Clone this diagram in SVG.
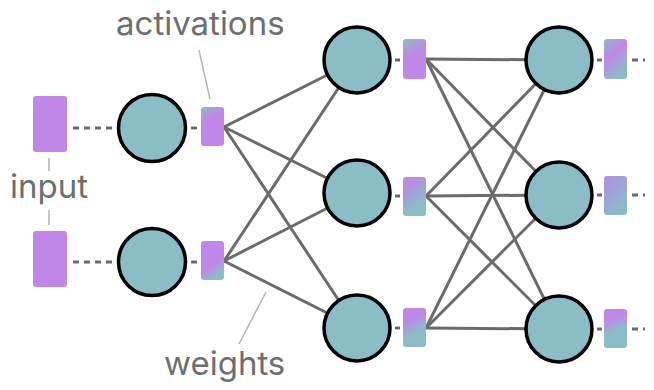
<svg xmlns="http://www.w3.org/2000/svg" width="654" height="390" viewBox="0 0 654 390">
<style>
.neuron{fill:#8bbdc6;stroke:#000;stroke-width:3.5}
.w{stroke:#6b6b6b;stroke-width:3;fill:none}
.d{stroke:#6b6b6b;stroke-width:3;fill:none}
.lead{stroke:#b5b5b5;stroke-width:1.5;fill:none}
.lbl{font-family:Inter,"Liberation Sans",sans-serif;font-size:33px;fill:#6e6e6e}
.inp{fill:#c086e8}
</style>
<defs>
<linearGradient id="gA" x1="0" y1="0" x2="0.35" y2="1"><stop offset="0" stop-color="#8bbdc6"/><stop offset="0.4" stop-color="#c086e8"/><stop offset="1" stop-color="#c086e8"/></linearGradient>
<linearGradient id="gB" x1="0" y1="0" x2="0.4" y2="1"><stop offset="0" stop-color="#c086e8"/><stop offset="0.7" stop-color="#c086e8"/><stop offset="1" stop-color="#8bbdc6"/></linearGradient>
<linearGradient id="gC" x1="0" y1="0" x2="0.3" y2="1"><stop offset="0" stop-color="#8bbdc6"/><stop offset="0.5" stop-color="#c086e8"/><stop offset="1" stop-color="#c086e8"/></linearGradient>
<linearGradient id="gD" x1="0" y1="0" x2="0.5" y2="1"><stop offset="0" stop-color="#c086e8"/><stop offset="0.3" stop-color="#b48fe0"/><stop offset="0.85" stop-color="#8bbdc6"/></linearGradient>
<linearGradient id="gE" x1="0" y1="0" x2="0.3" y2="1"><stop offset="0" stop-color="#c086e8"/><stop offset="0.35" stop-color="#c086e8"/><stop offset="0.75" stop-color="#8bbdc6"/></linearGradient>
<linearGradient id="gF" x1="0" y1="0" x2="0.5" y2="1"><stop offset="0" stop-color="#8bbdc6"/><stop offset="0.45" stop-color="#c086e8"/><stop offset="1" stop-color="#8bbdc6"/></linearGradient>
<linearGradient id="gG" x1="0" y1="0" x2="0.5" y2="1"><stop offset="0" stop-color="#b28fe2"/><stop offset="0.6" stop-color="#98aad4"/><stop offset="1" stop-color="#8bbdc6"/></linearGradient>
<linearGradient id="gH" x1="0" y1="0" x2="0.2" y2="1"><stop offset="0" stop-color="#c086e8"/><stop offset="0.3" stop-color="#c086e8"/><stop offset="0.65" stop-color="#8bbdc6"/></linearGradient>
</defs>

<g id="connectors">
<line class="w" x1="224" y1="127" x2="357" y2="60"/>
<line class="w" x1="224" y1="127" x2="357" y2="193"/>
<line class="w" x1="224" y1="127" x2="357" y2="328"/>
<line class="w" x1="224" y1="261" x2="357" y2="60"/>
<line class="w" x1="224" y1="261" x2="357" y2="193"/>
<line class="w" x1="224" y1="261" x2="357" y2="328"/>
<line class="w" x1="426" y1="59" x2="559" y2="60"/>
<line class="w" x1="426" y1="59" x2="559" y2="195"/>
<line class="w" x1="426" y1="59" x2="559" y2="329"/>
<line class="w" x1="426" y1="196" x2="559" y2="60"/>
<line class="w" x1="426" y1="196" x2="559" y2="195"/>
<line class="w" x1="426" y1="196" x2="559" y2="329"/>
<line class="w" x1="426" y1="328" x2="559" y2="60"/>
<line class="w" x1="426" y1="328" x2="559" y2="195"/>
<line class="w" x1="426" y1="328" x2="559" y2="329"/>
<line class="d" x1="73" y1="128" x2="117" y2="128" stroke-dasharray="6 5"/>
<line class="d" x1="73" y1="262" x2="117" y2="262" stroke-dasharray="6 5"/>
<line class="d" x1="191" y1="128" x2="197" y2="128"/>
<line class="d" x1="191" y1="262" x2="197" y2="262"/>
<line class="d" x1="395" y1="60" x2="400" y2="60"/>
<line class="d" x1="395" y1="196" x2="400" y2="196"/>
<line class="d" x1="395" y1="328" x2="400" y2="328"/>
<line class="d" x1="597" y1="60" x2="602" y2="60"/>
<line class="d" x1="597" y1="195" x2="602" y2="195"/>
<line class="d" x1="597" y1="329" x2="602" y2="329"/>
<line class="d" x1="632" y1="60" x2="645" y2="60" stroke-dasharray="6 5"/>
<line class="d" x1="632" y1="195" x2="645" y2="195" stroke-dasharray="6 5"/>
<line class="d" x1="632" y1="329" x2="645" y2="329" stroke-dasharray="6 5"/>
</g>

<g id="input1"><rect class="inp" x="33" y="96" width="34" height="56" rx="3"/></g>
<g id="input2"><rect class="inp" x="33" y="231" width="34" height="56" rx="3"/></g>

<g id="n1a"><circle class="neuron" cx="152" cy="128" r="33.5"/></g>
<g id="n1b"><circle class="neuron" cx="152" cy="262" r="33.5"/></g>
<g id="a1a"><rect x="201" y="107" width="23" height="39" rx="3" fill="url(#gA)"/></g>
<g id="a1b"><rect x="201" y="241" width="23" height="39" rx="3" fill="url(#gB)"/></g>

<g id="n2a"><circle class="neuron" cx="357" cy="60" r="33"/></g>
<g id="n2b"><circle class="neuron" cx="357" cy="193" r="33"/></g>
<g id="n2c"><circle class="neuron" cx="357" cy="328" r="33"/></g>
<g id="a2a"><rect x="403" y="39" width="23" height="40" rx="3" fill="url(#gC)"/></g>
<g id="a2b"><rect x="403" y="177" width="23" height="39" rx="3" fill="url(#gD)"/></g>
<g id="a2c"><rect x="403" y="308" width="23" height="39" rx="3" fill="url(#gE)"/></g>

<g id="n3a"><circle class="neuron" cx="559" cy="60" r="33"/></g>
<g id="n3b"><circle class="neuron" cx="559" cy="195" r="33"/></g>
<g id="n3c"><circle class="neuron" cx="559" cy="329" r="33"/></g>
<g id="a3a"><rect x="604" y="39" width="23" height="40" rx="3" fill="url(#gF)"/></g>
<g id="a3b"><rect x="604" y="176" width="23" height="39" rx="3" fill="url(#gG)"/></g>
<g id="a3c"><rect x="604" y="309" width="23" height="39" rx="3" fill="url(#gH)"/></g>

<g id="labels">
<text class="lbl" x="116" y="35">activations</text>
<line class="lead" x1="199" y1="50" x2="210" y2="99"/>
<text class="lbl" x="10" y="198">input</text>
<line class="lead" x1="49" y1="158" x2="49" y2="171"/>
<line class="lead" x1="49" y1="210" x2="49" y2="225"/>
<text class="lbl" x="164" y="375">weights</text>
<line class="lead" x1="266" y1="292" x2="239" y2="344"/>
</g>
</svg>
